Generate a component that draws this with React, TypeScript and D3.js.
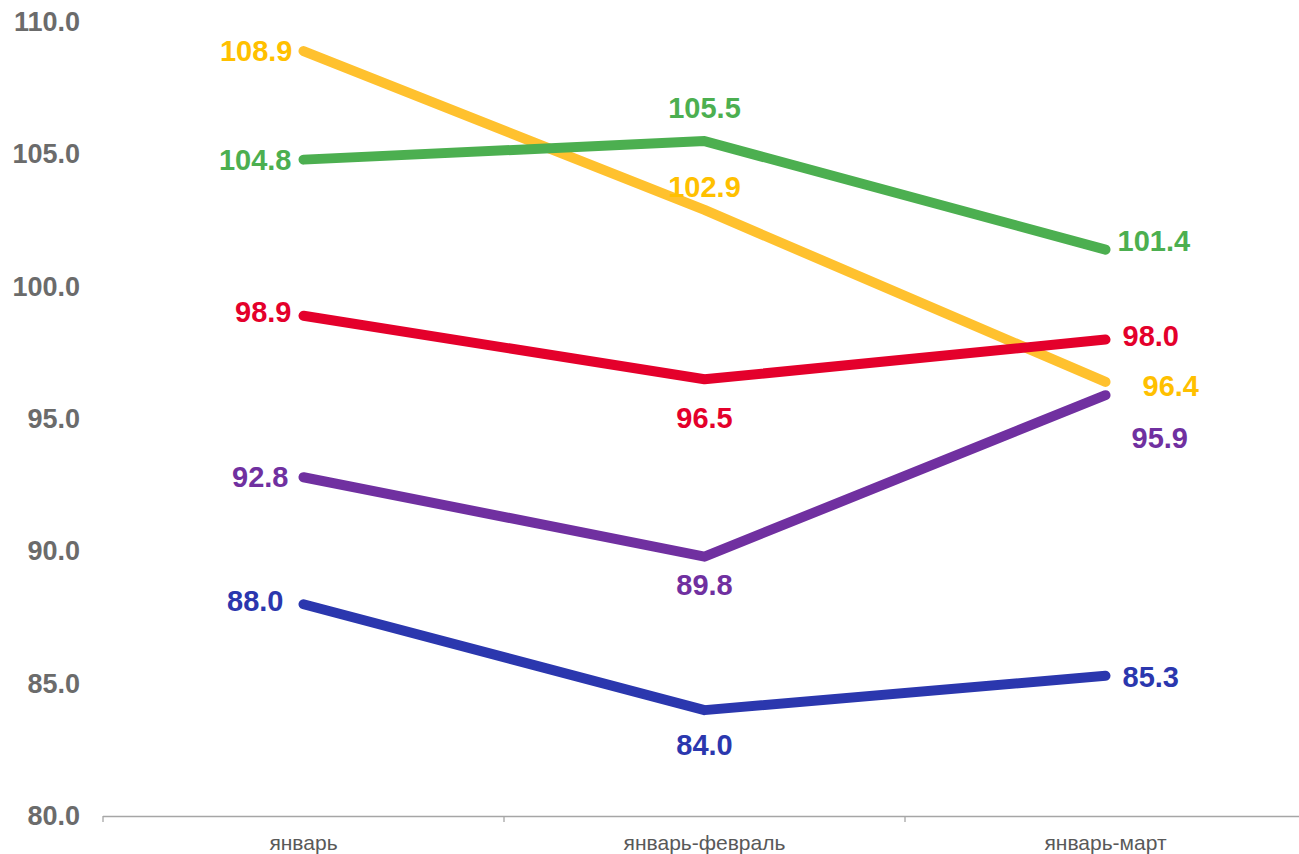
import * as d3 from 'd3'

const categories = ['январь', 'январь-февраль', 'январь-март']

const yellowValues = [108.9, 102.9, 96.4]
const greenValues = [104.8, 105.5, 101.4]
const redValues = [98.9, 96.5, 98.0]
const purpleValues = [92.8, 89.8, 95.9]
const blueValues = [88.0, 84.0, 85.3]

const yTicks = [80, 85, 90, 95, 100, 105, 110]

// label placement per point: [dx, dy, anchor]
type Place = [number, number, 'start' | 'middle' | 'end']

const series = [
  {
    name: 'yellow',
    values: yellowValues,
    color: '#FFC12E',
    text: '#FFC000',
    place: [[-11, 0, 'end'], [0, -23, 'middle'], [37, 4, 'start']] as Place[],
  },
  {
    name: 'green',
    values: greenValues,
    color: '#4CAF50',
    text: '#4CAF50',
    place: [[-12, 0, 'end'], [0, -33, 'middle'], [12, -9, 'start']] as Place[],
  },
  {
    name: 'blue',
    values: blueValues,
    color: '#2B37AE',
    text: '#2B37AE',
    place: [[-20, -3, 'end'], [0, 35, 'middle'], [17, 1, 'start']] as Place[],
  },
  {
    name: 'purple',
    values: purpleValues,
    color: '#7030A0',
    text: '#7030A0',
    place: [[-15, 0, 'end'], [0, 28, 'middle'], [26, 43, 'start']] as Place[],
  },
  {
    name: 'red',
    values: redValues,
    color: '#E4002B',
    text: '#E4002B',
    place: [[-12, -4, 'end'], [0, 39, 'middle'], [17, -4, 'start']] as Place[],
  },
]

export default function App() {
  const width = 1299
  const height = 854

  const x = d3.scaleBand<string>().domain(categories).range([103, 1306])
  const y = d3.scaleLinear().domain([80, 110]).range([816, 22])

  const cx = (c: string) => (x(c) as number) + x.bandwidth() / 2

  const line = d3
    .line<number>()
    .x((_, i) => cx(categories[i]))
    .y((d) => y(d))

  const font = '"Liberation Sans", Arial, sans-serif'
  const tickXs = [...categories.map((c) => x(c) as number), 1306]

  return (
    <svg
      width={width}
      height={height}
      style={{ position: 'absolute', left: 0, top: 0, background: '#fff' }}
      fontFamily={font}
    >
      {/* y labels */}
      {yTicks.map((t) => (
        <text
          key={t}
          x={80}
          y={y(t)}
          textAnchor="end"
          dominantBaseline="central"
          fontSize={27}
          fontWeight="bold"
          fill="#6b6b6b"
        >
          {t.toFixed(1)}
        </text>
      ))}

      {/* x axis */}
      <line x1={103} x2={width} y1={816.5} y2={816.5} stroke="#a6a6a6" strokeWidth={1.3} />
      {tickXs.map((tx, i) => (
        <line key={i} x1={tx} x2={tx} y1={816} y2={822} stroke="#a6a6a6" strokeWidth={1.3} />
      ))}
      {categories.map((c) => (
        <text
          key={c}
          x={cx(c)}
          y={842}
          textAnchor="middle"
          dominantBaseline="central"
          fontSize={21}
          fill="#595959"
        >
          {c}
        </text>
      ))}

      {/* lines */}
      {series.map((s) => (
        <path
          key={s.name}
          d={line(s.values) as string}
          fill="none"
          stroke={s.color}
          strokeWidth={10}
          strokeLinecap="round"
          strokeLinejoin="round"
        />
      ))}

      {/* value labels */}
      {series.map((s) =>
        s.values.map((v, i) => {
          const [dx, dy, anchor] = s.place[i]
          return (
            <text
              key={s.name + i}
              x={cx(categories[i]) + dx}
              y={y(v) + dy}
              textAnchor={anchor}
              dominantBaseline="central"
              fontSize={29}
              fontWeight="bold"
              fill={s.text}
            >
              {v.toFixed(1)}
            </text>
          )
        })
      )}
    </svg>
  )
}
